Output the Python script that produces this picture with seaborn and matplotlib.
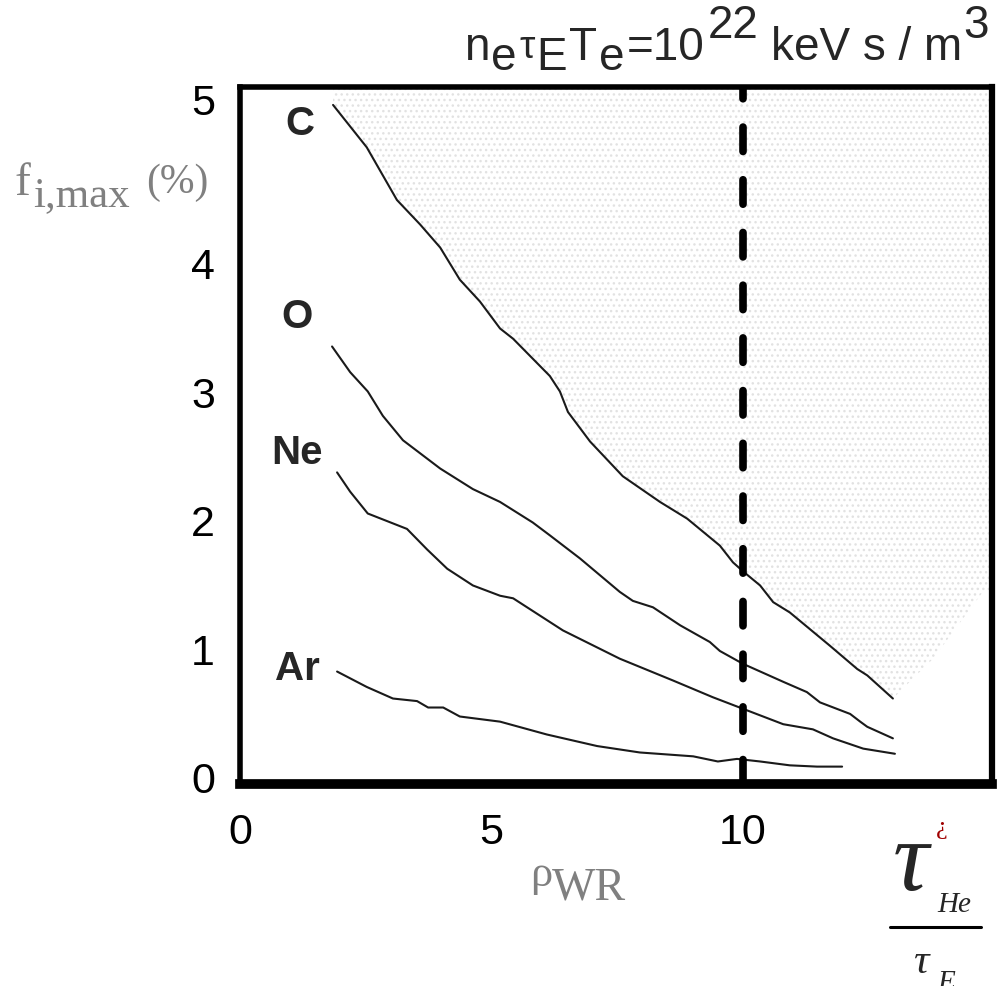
import matplotlib.pyplot as plt
import numpy as np
import pandas as pd
import seaborn as sns
from matplotlib.lines import Line2D

# curve data (rho_WR, f_i,max in %)
c_x = [1.85, 2.52, 3.12, 3.58, 3.98, 4.37, 4.77, 5.17, 5.43, 6.16, 6.36, 6.52,
       6.96, 7.61, 8.35, 8.89, 9.54, 9.80, 10.0, 10.34, 10.60, 10.93, 11.73,
       12.27, 12.47, 12.98]
c_y = [5.23, 4.90, 4.49, 4.30, 4.12, 3.87, 3.70, 3.49, 3.41, 3.12, 3.00, 2.84,
       2.61, 2.34, 2.14, 2.01, 1.80, 1.67, 1.60, 1.49, 1.36, 1.28, 1.02,
       0.84, 0.79, 0.61]

o_x = [1.83, 2.19, 2.54, 2.84, 3.24, 3.98, 4.63, 5.17, 5.82, 6.16, 6.76, 7.55,
       7.81, 8.21, 8.75, 9.34, 9.54, 10.0, 10.80, 11.27, 11.53, 12.13, 12.33,
       12.47, 12.98]
o_y = [3.35, 3.15, 3.00, 2.81, 2.62, 2.40, 2.24, 2.14, 1.98, 1.88, 1.70, 1.44,
       1.37, 1.32, 1.18, 1.05, 0.98, 0.88, 0.74, 0.66, 0.58, 0.49, 0.43,
       0.39, 0.30]

ne_x = [1.93, 2.19, 2.54, 3.32, 3.72, 4.12, 4.63, 5.17, 5.43, 6.42, 7.55, 8.61,
        9.40, 10.0, 10.80, 11.39, 11.79, 12.39, 13.02]
ne_y = [2.37, 2.22, 2.05, 1.93, 1.77, 1.62, 1.49, 1.41, 1.39, 1.14, 0.92, 0.75,
        0.62, 0.53, 0.41, 0.37, 0.30, 0.22, 0.18]

ar_x = [1.93, 2.52, 3.04, 3.52, 3.74, 4.04, 4.37, 5.17, 6.10, 7.10, 7.95, 9.01,
        9.50, 9.88, 10.34, 10.93, 11.47, 11.97]
ar_y = [0.82, 0.70, 0.61, 0.59, 0.54, 0.54, 0.47, 0.43, 0.33, 0.24, 0.19, 0.16,
        0.12, 0.14, 0.12, 0.09, 0.08, 0.08]

# lower edge of the dotted area beyond the end of the C curve
shade_x = [13.78, 14.77, 14.95]
shade_y = [0.92, 1.44, 1.46]

x_ticks = [0, 5, 10]
y_ticks = [0, 1, 2, 3, 4, 5.28]
y_tick_labels = ["0", "1", "2", "3", "4", "5"]
limit_rho = 10

sns.set_style("white")
plt.rcParams["font.family"] = ["Liberation Sans", "DejaVu Sans"]
plt.rcParams["hatch.linewidth"] = 1.0

curves = pd.concat([
    pd.DataFrame({"element": name, "rho": xs, "f": ys})
    for name, xs, ys in [("C", c_x, c_y), ("O", o_x, o_y),
                         ("Ne", ne_x, ne_y), ("Ar", ar_x, ar_y)]
])

fig = plt.figure(figsize=(10, 9.87), dpi=100)
ax = fig.add_axes([0.240, 0.2047, 0.752, 0.7062])

# faint dotted background above the C curve
edge_x = np.array(c_x + shade_x)
edge_y = np.array(c_y + shade_y)
ax.fill_between(edge_x, edge_y, 5.37, facecolor="none", edgecolor="#e2e2e2",
                hatch="...", linewidth=0, zorder=0)

sns.lineplot(data=curves, x="rho", y="f", units="element", estimator=None,
             sort=False, color="#1a1a1a", linewidth=1.5, legend=False, ax=ax)

ax.axvline(limit_rho, color="black", linewidth=5.5, dash_capstyle="round",
           dashes=(3.2, 3.7), zorder=3)

for name, tx, ty in [("C", 1.19, 5.00), ("O", 1.13, 3.50),
                     ("Ne", 1.13, 2.44), ("Ar", 1.15, 0.763)]:
    ax.text(tx, ty, name, fontsize=29, fontweight="bold", ha="center",
            va="baseline")

ax.set_xlim(0, 14.95)
ax.set_ylim(-0.055, 5.37)
ax.set_xticks(x_ticks)
ax.set_yticks(y_ticks)
ax.set_yticklabels(y_tick_labels)
ax.tick_params(axis="both", length=0, labelsize=31, colors="black")
ax.tick_params(axis="y", pad=18)
ax.tick_params(axis="x", pad=20)
ax.set_xlabel("")
ax.set_ylabel("")
for side, lw in [("left", 4), ("top", 4), ("right", 4.5), ("bottom", 7)]:
    ax.spines[side].set_visible(True)
    ax.spines[side].set_color("black")
    ax.spines[side].set_linewidth(lw)


def px(x, y):
    return x / 1000, 1 - y / 987


# title: full-size sub/superscripts, chained piece by piece
# (text, shift in px above baseline, font size, gap in points)
title_pieces = [("e", -10, 33, 1), ("τ", 4, 28, 2), ("E", -10, 33, 1),
                ("T", 0, 33, 2), ("e", -10, 33, 1), ("=10", 0, 33, 2),
                ("22", 22, 33, 2), ("keV s / m", 0, 33, 9), ("3", 22, 33, 1)]
prev = fig.text(*px(464, 60), "n", fontsize=33, va="baseline")
cur = 0
for s, dy, size, gap in title_pieces:
    prev = ax.annotate(s, xy=(1, 0), xycoords=prev,
                       xytext=(gap, (dy - cur) * 0.72),
                       textcoords="offset points", fontsize=size,
                       ha="left", va="bottom")
    cur = dy

# y label  f_i,max (%)
grey = "#808080"
serif = ["Liberation Serif", "DejaVu Serif"]
fig.text(*px(15, 195), "f", fontsize=34, color=grey, family=serif, va="baseline")
fig.text(*px(33, 206), "i,max", fontsize=31, color=grey, family=serif, va="baseline")
fig.text(*px(146, 193), "(%)", fontsize=30, color=grey, family=serif, va="baseline")

# x label  rho_WR
fig.text(*px(530, 886), "ρ", fontsize=32, color=grey, family=serif, va="baseline")
fig.text(*px(552, 900), "WR", fontsize=33, color=grey, family=serif, va="baseline")

# broken equation object in the corner
fig.text(*px(893, 890), "τ", fontsize=72, family=serif, style="italic",
         va="baseline")
fig.text(*px(942, 828), "¿", fontsize=19, family=serif, color="#a00000",
         ha="center", va="center")
fig.text(*px(937, 912), "He", fontsize=21, family=serif, style="italic",
         va="baseline")
fig.add_artist(Line2D([0.890, 0.981], [1 - 928 / 987] * 2, color="black",
                      linewidth=2.2, transform=fig.transFigure))
fig.text(*px(913, 973), "τ", fontsize=31, family=serif, style="italic",
         va="baseline")
fig.text(*px(937, 970), "E", fontsize=21, family=serif, style="italic",
         va="top")

fig.savefig("out.png", dpi=100)
